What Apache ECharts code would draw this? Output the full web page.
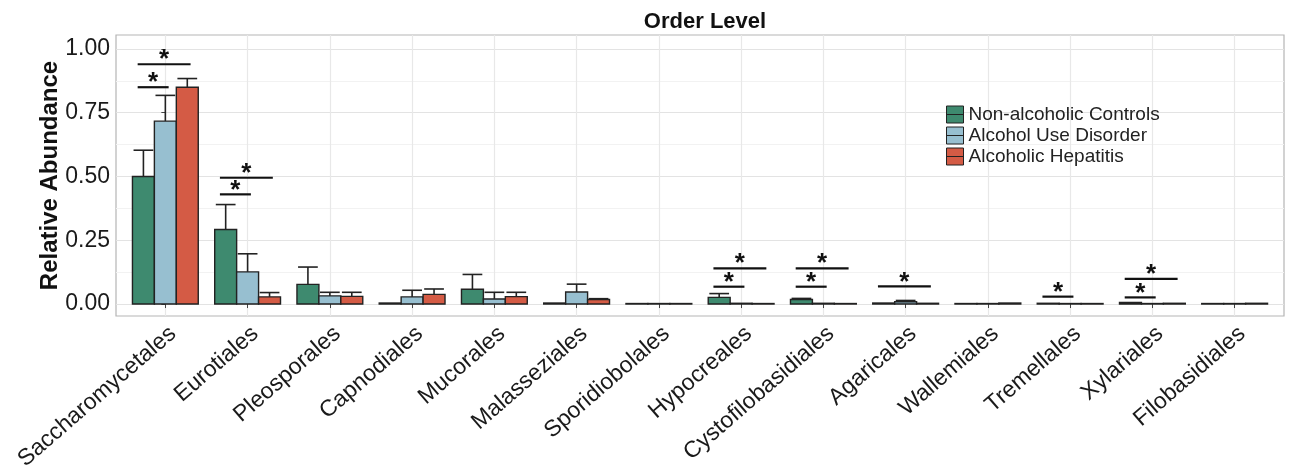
<!DOCTYPE html>
<html><head><meta charset="utf-8">
<script src="https://cdn.jsdelivr.net/npm/echarts@6/dist/echarts.min.js"></script>
<style>html,body{margin:0;padding:0;background:#fff}#c{width:1296px;height:473px}</style>
</head><body><div id="c"></div>
<script>
const categories = ['Saccharomycetales','Eurotiales','Pleosporales','Capnodiales','Mucorales','Malasseziales','Sporidiobolales','Hypocreales','Cystofilobasidiales','Agaricales','Wallemiales','Tremellales','Xylariales','Filobasidiales'];
const groupNames = ['Non-alcoholic Controls','Alcohol Use Disorder','Alcoholic Hepatitis'];
const controls    = [0.500,0.292,0.077,0.004,0.058,0.004,0.002,0.026,0.018,0.004,0.002,0.003,0.006,0.002];
const controlsErr = [0.603,0.390,0.145,0.004,0.116,0.004,0.002,0.041,0.022,0.004,0.002,0.003,0.006,0.002];
const aud         = [0.717,0.126,0.032,0.028,0.020,0.047,0.002,0.003,0.003,0.009,0.002,0.002,0.002,0.002];
const audErr      = [0.818,0.197,0.046,0.054,0.046,0.078,0.002,0.003,0.003,0.014,0.002,0.002,0.002,0.002];
const ah          = [0.850,0.028,0.030,0.038,0.029,0.018,0.002,0.002,0.002,0.003,0.004,0.002,0.003,0.003];
const ahErr       = [0.884,0.045,0.046,0.059,0.046,0.021,0.002,0.002,0.002,0.003,0.004,0.002,0.003,0.003];
// significance brackets: category index, compared groups, height
const sigCat  = [0,0,1,1,7,7,8,8,9,11,12,12];
const sigFrom = [0,0,0,0,0,0,0,0,0,0,0,0];
const sigTo   = [1,2,1,2,1,2,1,2,2,1,1,2];
const sigY    = [0.850,0.940,0.430,0.495,0.068,0.140,0.068,0.140,0.069,0.029,0.026,0.099];
const yTicks = [0,0.25,0.5,0.75,1.0];
const yMinor = [0.125,0.375,0.625,0.875];

const colors = ['#3e8a6f','#97bfd0','#d45b45'];
const FONT = 'Liberation Sans, Arial, Helvetica, sans-serif';
const BW = 0.8/3, CAP = 0.24;
const vals = [controls,aud,ah], errs = [controlsErr,audErr,ahErr];

function barRender(k){
  return function(params, api){
    const i = api.value(0), v = api.value(1), e = api.value(2);
    const cx = i + (k-1)*BW;
    const p0 = api.coord([cx-BW/2, 0]);
    const p1 = api.coord([cx+BW/2, v]);
    const pe = api.coord([cx, e]);
    const cl = api.coord([cx-CAP/2, e]);
    const cr = api.coord([cx+CAP/2, e]);
    const ch = [];
    if (e > v) {
      ch.push({type:'line', shape:{x1:pe[0],y1:p1[1],x2:pe[0],y2:pe[1]}, style:{stroke:'#222',lineWidth:1.6}});
      ch.push({type:'line', shape:{x1:cl[0],y1:cl[1],x2:cr[0],y2:cr[1]}, style:{stroke:'#222',lineWidth:1.6}});
    }
    ch.push({type:'rect', shape:{x:p0[0], y:p1[1], width:p1[0]-p0[0], height:Math.max(p0[1]-p1[1],0.5)},
      style:{fill:api.visual('color'), stroke:'#222', lineWidth:1.4}});
    return {type:'group', children:ch};
  };
}

const series = groupNames.map((n,k)=>({
  name:n, type:'custom', xAxisIndex:0, yAxisIndex:0,
  itemStyle:{color:colors[k], borderColor:'#222', borderWidth:1},
  data: categories.map((c,i)=>[i, vals[k][i], errs[k][i]]),
  renderItem: barRender(k), z:3
}));

series.push({
  name:'sig', type:'custom', xAxisIndex:0, yAxisIndex:0, z:4, silent:true,
  data: sigCat.map((c,j)=>[c, sigFrom[j], sigTo[j], sigY[j]]),
  renderItem(params, api){
    const c = api.value(0), a = api.value(1), b = api.value(2), y = api.value(3);
    const xa = c + (a-1)*BW - 0.07, xb = c + (b-1)*BW + 0.04;
    const pa = api.coord([xa, y]), pb = api.coord([xb, y]);
    return {type:'group', children:[
      {type:'line', shape:{x1:pa[0],y1:pa[1],x2:pb[0],y2:pb[1]}, style:{stroke:'#111',lineWidth:2.2}},
      {type:'text', x:(pa[0]+pb[0])/2, y:pa[1]-17, style:{text:'*', fill:'#111', font:'bold 26px '+FONT, align:'center', verticalAlign:'top'}}
    ]};
  }
});

const option = {
  animation:false,
  backgroundColor:'#fff',
  title:{text:'Order Level', left:700, top:6, textAlign:'center',
    textStyle:{fontFamily:FONT, fontSize:22, fontWeight:'bold', color:'#111'}},
  legend:{orient:'vertical', left:946, top:105, padding:0, itemWidth:17, itemHeight:17, itemGap:2,
    data:groupNames, icon:'path://M0,0H20V20H0ZM0,10H20',
    itemStyle:{borderColor:'#222', borderWidth:1},
    textStyle:{fontFamily:FONT, fontSize:19, color:'#222'}},
  grid:{left:116, right:12, top:35, bottom:156, show:true, borderColor:'#b5b5b5', borderWidth:1.2, backgroundColor:'#fff'},
  xAxis:{type:'value', min:-0.6, max:13.6,
    axisLine:{show:false},
    axisTick:{show:true, customValues:categories.map((c,i)=>i), length:4, lineStyle:{color:'#444'}},
    axisLabel:{customValues:categories.map((c,i)=>i), formatter:v=>categories[Math.round(v)], rotate:41, margin:6,
      verticalAlign:'top', fontFamily:FONT, fontSize:23, color:'#1a1a1a'},
    splitLine:{show:true, lineStyle:{color:'#e8e8e8', width:1.2}}},
  yAxis:[{type:'value', min:-0.0469, max:1.0547,
    name:'Relative Abundance', nameLocation:'middle', nameGap:54, nameMoveOverlap:false,
    nameTextStyle:{fontFamily:FONT, fontSize:24, fontWeight:'bold', color:'#111'},
    axisLine:{show:false},
    axisTick:{show:true, customValues:yTicks, length:4, lineStyle:{color:'#444'}},
    axisLabel:{customValues:yTicks, formatter:v=>v.toFixed(2), margin:6, fontFamily:FONT, fontSize:23, color:'#1a1a1a'},
    splitLine:{show:true, lineStyle:{color:'#e3e3e3', width:1.2}}},
   {type:'value', min:-0.0469, max:1.0547, position:'left',
    axisLine:{show:false}, axisTick:{show:false, customValues:yMinor}, axisLabel:{show:false, customValues:yMinor},
    splitLine:{show:true, lineStyle:{color:'#f2f2f2', width:1}}}],
  series
};
const chart = echarts.init(document.getElementById('c'), null, {renderer:'canvas'});
chart.setOption(option);
</script></body></html>
